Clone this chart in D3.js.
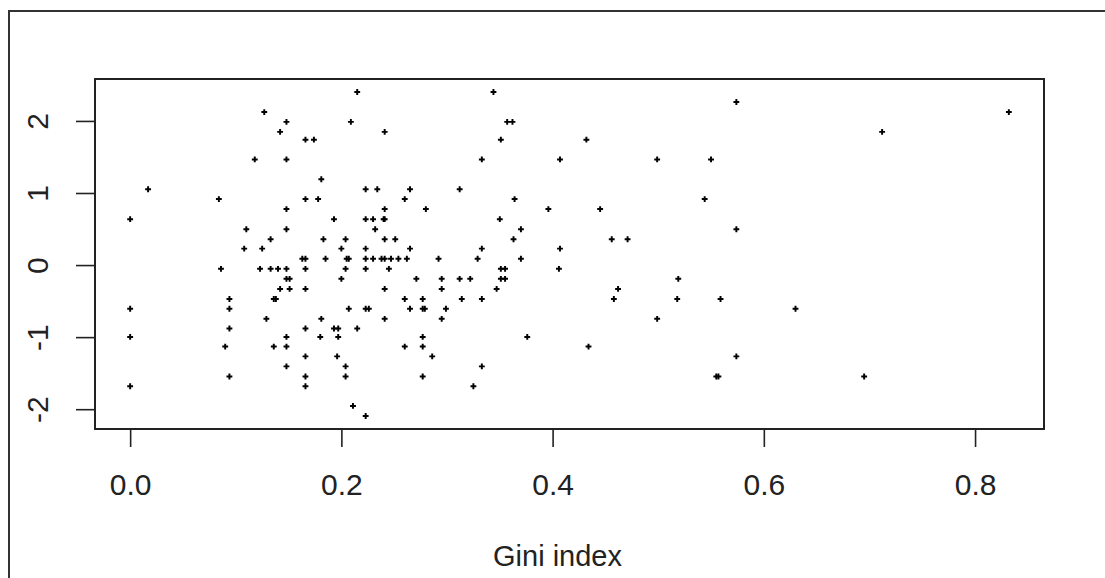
<!DOCTYPE html>
<html>
<head>
<meta charset="utf-8">
<script src="https://cdn.jsdelivr.net/npm/d3@7"></script>
<style>
  body { margin: 0; background: #fff; }
  svg { display: block; font-family: "Liberation Sans", Arial, sans-serif; }
</style>
</head>
<body>
<svg id="scatter" width="1105" height="578"></svg>
<script>
// Gini index (x) against the unlabelled score (y)
const giniIndex = [
  0.127, 0.148, 0.142, 0.166, 0.174, 0.118, 0.148, 0.017, 0.181, 0.084,
  0.166, 0.178, 0.148, 0.000, 0.193, 0.110, 0.148, 0.133, 0.183, 0.108,
  0.125, 0.163, 0.166, 0.185, 0.086, 0.123, 0.133, 0.140, 0.148, 0.166,
  0.148, 0.151, 0.142, 0.151, 0.166, 0.094, 0.136, 0.138, 0.000, 0.094,
  0.129, 0.181, 0.094, 0.166, 0.193, 0.197, 0.000, 0.148, 0.180, 0.197,
  0.090, 0.136, 0.148, 0.166, 0.196, 0.148, 0.094, 0.166, 0.000, 0.166,
  0.215, 0.344, 0.209, 0.357, 0.362, 0.241, 0.351, 0.333, 0.407, 0.223,
  0.234, 0.265, 0.312, 0.260, 0.364, 0.241, 0.280, 0.396, 0.223, 0.230,
  0.240, 0.241, 0.350, 0.232, 0.370, 0.204, 0.241, 0.251, 0.363, 0.200,
  0.223, 0.265, 0.333, 0.407, 0.205, 0.207, 0.223, 0.230, 0.238, 0.241,
  0.247, 0.254, 0.262, 0.292, 0.329, 0.370, 0.204, 0.223, 0.245, 0.351,
  0.355, 0.406, 0.200, 0.271, 0.295, 0.312, 0.322, 0.351, 0.355, 0.241,
  0.295, 0.347, 0.260, 0.277, 0.314, 0.333, 0.207, 0.223, 0.226, 0.265,
  0.277, 0.279, 0.299, 0.241, 0.295, 0.215, 0.277, 0.376, 0.260, 0.277,
  0.286, 0.204, 0.333, 0.204, 0.277, 0.325, 0.211, 0.223,
  0.574, 0.832, 0.432, 0.712, 0.499, 0.550, 0.544, 0.445, 0.574, 0.456,
  0.471, 0.519, 0.462, 0.458, 0.518, 0.559, 0.630, 0.499, 0.434, 0.574,
  0.555, 0.557, 0.695
];
const score = [
  2.123, 1.987, 1.848, 1.740, 1.740, 1.466, 1.466, 1.052, 1.191, 0.916,
  0.916, 0.916, 0.777, 0.637, 0.637, 0.497, 0.497, 0.358, 0.358, 0.228,
  0.228, 0.088, 0.088, 0.088, -0.052, -0.052, -0.052, -0.052, -0.052, -0.052,
  -0.191, -0.191, -0.331, -0.331, -0.331, -0.471, -0.471, -0.471, -0.606, -0.606,
  -0.746, -0.746, -0.880, -0.880, -0.880, -0.880, -0.997, -0.997, -0.997, -0.997,
  -1.131, -1.131, -1.131, -1.267, -1.267, -1.406, -1.546, -1.546, -1.682, -1.682,
  2.402, 2.402, 1.987, 1.987, 1.987, 1.848, 1.740, 1.466, 1.466, 1.052,
  1.052, 1.052, 1.052, 0.916, 0.916, 0.777, 0.777, 0.777, 0.637, 0.637,
  0.637, 0.637, 0.637, 0.497, 0.497, 0.358, 0.358, 0.358, 0.358, 0.228,
  0.228, 0.228, 0.228, 0.228, 0.088, 0.088, 0.088, 0.088, 0.088, 0.088,
  0.088, 0.088, 0.088, 0.088, 0.088, 0.088, -0.052, -0.052, -0.052, -0.052,
  -0.052, -0.052, -0.191, -0.191, -0.191, -0.191, -0.191, -0.191, -0.191, -0.331,
  -0.331, -0.331, -0.471, -0.471, -0.471, -0.471, -0.606, -0.606, -0.606, -0.606,
  -0.606, -0.606, -0.606, -0.746, -0.746, -0.880, -0.997, -0.997, -1.131, -1.131,
  -1.267, -1.406, -1.406, -1.546, -1.546, -1.682, -1.955, -2.095,
  2.263, 2.123, 1.740, 1.848, 1.466, 1.466, 0.916, 0.777, 0.497, 0.358,
  0.358, -0.191, -0.331, -0.471, -0.471, -0.471, -0.606, -0.746, -1.131, -1.267,
  -1.546, -1.546, -1.546
];
const xTicks = [0, 0.2, 0.4, 0.6, 0.8];
const yTicks = [-2, -1, 0, 1, 2];
const xLabel = "Gini index";

const points = giniIndex.map((g, i) => ({ x: g, y: score[i] }));

const box = { left: 95, right: 1044, top: 79, bottom: 429 };

// R style: pad the data range by 4% on each side
function padded(values) {
  const [lo, hi] = d3.extent(values);
  const pad = (hi - lo) * 0.04;
  return [lo - pad, hi + pad];
}

const x = d3.scaleLinear().domain(padded(giniIndex)).range([box.left, box.right]);
const y = d3.scaleLinear().domain(padded(score)).range([box.bottom, box.top]);

const svg = d3.select("#scatter");

// outer frame of the figure
svg.append("rect")
  .attr("x", 9).attr("y", 11)
  .attr("width", 1110).attr("height", 600)
  .attr("fill", "none")
  .attr("stroke", "#333")
  .attr("stroke-width", 2);

const xAxis = d3.axisBottom(x).tickValues(xTicks).tickFormat(d => d.toFixed(1))
  .tickSize(18).tickPadding(27);
// plain hyphen for negatives, like R
const yAxis = d3.axisLeft(y).tickValues(yTicks).tickFormat(d => String(d))
  .tickSize(19).tickPadding(8);

const gx = svg.append("g")
  .attr("transform", `translate(0,${box.bottom})`)
  .call(xAxis);
const gy = svg.append("g")
  .attr("transform", `translate(${box.left},0)`)
  .call(yAxis);

[gx, gy].forEach(g => {
  g.select(".domain").remove();
  g.selectAll(".tick line").attr("stroke", "#222").attr("stroke-width", 1.6);
  g.selectAll(".tick text")
    .attr("fill", "#222")
    .style("font-size", "30px")
    .style("font-family", "'Liberation Sans', Arial, sans-serif");
});

// y tick labels are turned, reading upward, as R draws them
gy.selectAll(".tick text")
  .attr("x", null)
  .attr("text-anchor", "middle")
  .attr("transform", "translate(-58,0) rotate(-90)")
  .attr("dy", "0.35em");

// plot box
svg.append("rect")
  .attr("x", box.left).attr("y", box.top)
  .attr("width", box.right - box.left).attr("height", box.bottom - box.top)
  .attr("fill", "none")
  .attr("stroke", "#222")
  .attr("stroke-width", 2);

// points
const marker = d3.symbol(d3.symbolCross).size(19);
svg.append("g")
  .selectAll("path")
  .data(points)
  .join("path")
  .attr("transform", d => `translate(${x(d.x)},${y(d.y)})`)
  .attr("d", marker)
  .attr("fill", "#000");

svg.append("text")
  .attr("x", (box.left + box.right) / 2 - 12)
  .attr("y", 566)
  .attr("text-anchor", "middle")
  .attr("fill", "#222")
  .style("font-size", "29px")
  .text(xLabel);
</script>
</body>
</html>
